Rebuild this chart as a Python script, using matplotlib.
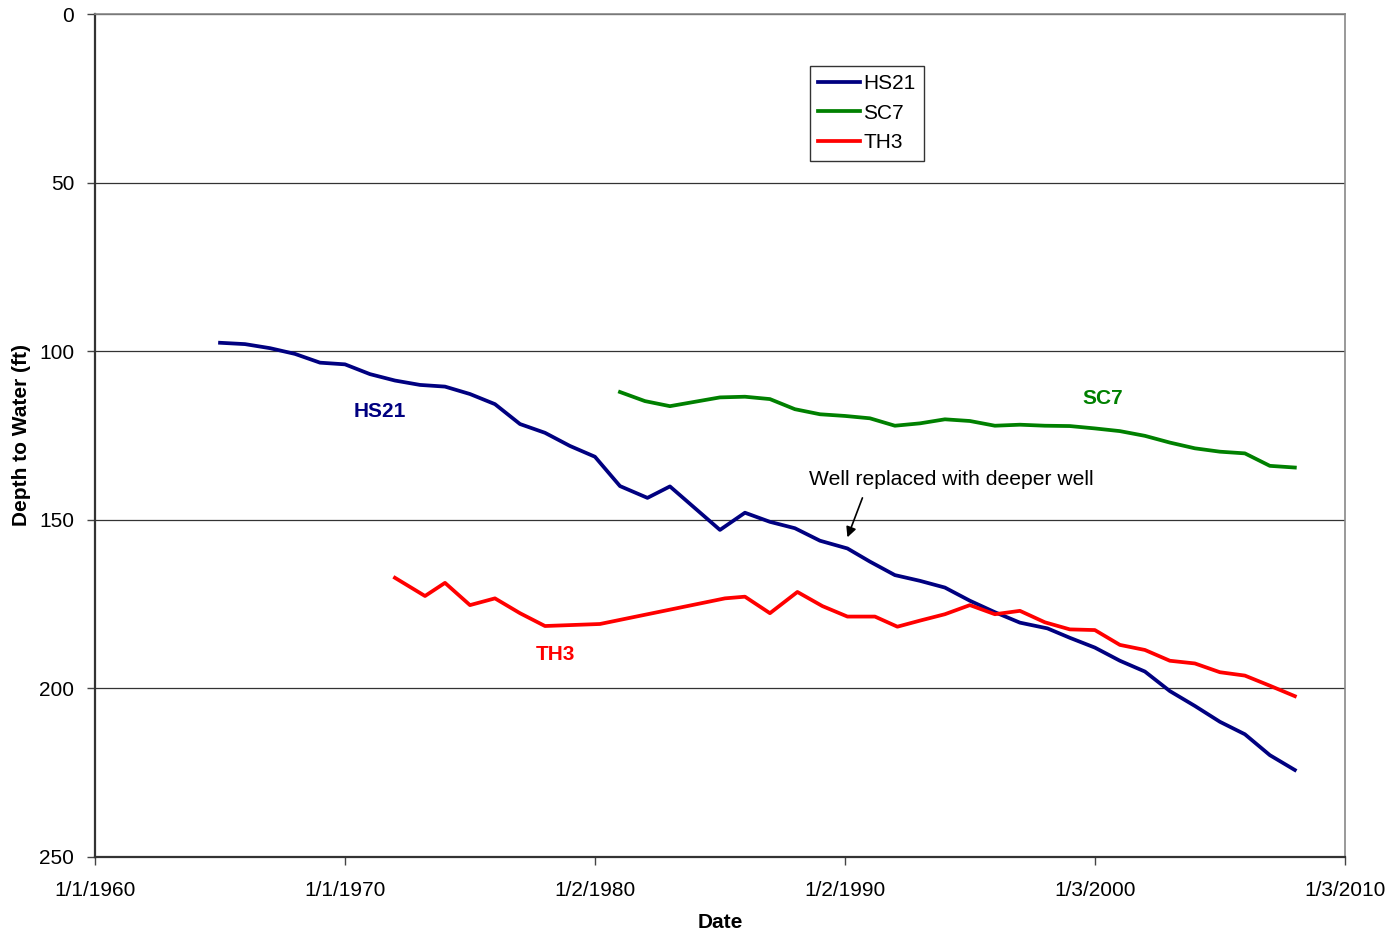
import datetime as dt
import matplotlib
matplotlib.use("Agg")
import matplotlib.pyplot as plt

plt.rcParams['font.family'] = ['Liberation Sans', 'DejaVu Sans']

# depth to water readings (ft), dates as decimal years
hs21_years = [1965, 1966, 1967, 1968, 1969, 1970, 1971, 1972, 1973, 1974, 1975,
              1976, 1977, 1978, 1979, 1980, 1981, 1982.1, 1983, 1985, 1986, 1987,
              1988, 1989, 1990.1, 1991, 1992, 1993, 1994, 1995, 1996, 1997, 1998.1,
              1999, 2000, 2001, 2002, 2003, 2004, 2005, 2006, 2007, 2008]
hs21_depth = [97.5, 97.9, 99.1, 100.8, 103.4, 103.9, 106.8, 108.7, 110.0, 110.5, 112.7,
              115.7, 121.6, 124.2, 128.1, 131.3, 140.0, 143.5, 140.1, 153.0, 147.9, 150.6,
              152.5, 156.2, 158.5, 162.4, 166.4, 168.1, 170.1, 174.0, 177.4, 180.5, 182.2,
              185.0, 187.9, 191.8, 195.0, 200.8, 205.2, 209.9, 213.6, 219.8, 224.2]

sc7_years = list(range(1981, 2009))
sc7_depth = [112.1, 114.8, 116.3, 115.0, 113.7, 113.5, 114.2, 117.2, 118.7, 119.2,
             119.9, 122.1, 121.4, 120.2, 120.7, 122.1, 121.8, 122.1, 122.2, 122.9,
             123.7, 125.1, 127.1, 128.8, 129.8, 130.3, 134.0, 134.5]

th3_years = [1972, 1973.2, 1974, 1975, 1976, 1977, 1978, 1980.2, 1985.2, 1986, 1987,
             1988.1, 1989.1, 1990.1, 1991.2, 1992.1, 1993, 1994, 1995, 1996, 1997,
             1998, 1999, 2000, 2001, 2002, 2003, 2004, 2005, 2006, 2007, 2008]
th3_depth = [167.2, 172.6, 168.7, 175.3, 173.3, 177.7, 181.5, 180.9, 173.3, 172.8, 177.7,
             171.4, 175.6, 178.7, 178.7, 181.7, 179.9, 178.0, 175.3, 178.0, 177.0,
             180.4, 182.5, 182.7, 187.1, 188.6, 191.8, 192.6, 195.2, 196.2, 199.2, 202.3]


def to_date(y):
    # decimal year -> datetime
    yr = int(y)
    return dt.datetime(yr, 1, 1) + dt.timedelta(days=(y - yr) * 365.25)


fig = plt.figure(figsize=(13.95, 9.4), dpi=100)
ax = fig.add_axes([95/1395, 83/940, 1250/1395, 843/940])

ax.plot([to_date(y) for y in hs21_years], hs21_depth, color='#000080', lw=2.7, label='HS21')
ax.plot([to_date(y) for y in sc7_years], sc7_depth, color='#008000', lw=2.7, label='SC7')
ax.plot([to_date(y) for y in th3_years], th3_depth, color='#FF0000', lw=2.7, label='TH3')

# excel style date ticks, every 3653 days
start = dt.datetime(1960, 1, 1)
ticks = [start + dt.timedelta(days=3653 * k) for k in range(6)]
ax.set_xlim(ticks[0], ticks[-1])
ax.set_xticks(ticks)
ax.set_xticklabels(['{}/{}/{}'.format(t.month, t.day, t.year) for t in ticks])

ax.set_ylim(250, 0)
ax.set_yticks([0, 50, 100, 150, 200, 250])
ax.yaxis.grid(True, color='#333333', lw=0.9)
ax.set_axisbelow(True)

ax.tick_params(labelsize=15, direction='out', length=6, width=1, color='#444444', pad=9)
ax.tick_params(axis='x', pad=11)
for s in ['left', 'bottom']:
    ax.spines[s].set_color('#333333')
    ax.spines[s].set_linewidth(1.6)
for s in ['top', 'right']:
    ax.spines[s].set_color('#888888')
    ax.spines[s].set_linewidth(1.2)

ax.set_xlabel('Date', fontsize=15, fontweight='bold', labelpad=10)
ax.set_ylabel('Depth to Water (ft)', fontsize=15, fontweight='bold', labelpad=6)

# series labels
ax.text(to_date(1971.4), 118.0, 'HS21', color='#000080', fontsize=15, fontweight='bold',
        ha='center', va='center')
ax.text(to_date(2000.3), 114.0, 'SC7', color='#008000', fontsize=15, fontweight='bold',
        ha='center', va='center')
ax.text(to_date(1978.4), 190.0, 'TH3', color='#FF0000', fontsize=15, fontweight='bold',
        ha='center', va='center')

ax.text(to_date(1988.55), 138.0, 'Well replaced with deeper well', fontsize=15.2,
        ha='left', va='center')
ax.annotate('', xy=(to_date(1990.1), 155.2), xytext=(to_date(1990.7), 143.5),
            arrowprops=dict(arrowstyle='-|>', color='black', lw=1.2,
                            shrinkA=0, shrinkB=0, mutation_scale=15))

leg = ax.legend(loc='upper left', bbox_to_anchor=(810/1395, 1 - 66/940),
                bbox_transform=fig.transFigure, fontsize=15, frameon=True,
                fancybox=False, edgecolor='black', handlelength=2.0,
                handletextpad=0.15, borderpad=0.4, labelspacing=0.5,
                borderaxespad=0)
leg.get_frame().set_linewidth(1.0)

fig.savefig('out.png', dpi=100)
